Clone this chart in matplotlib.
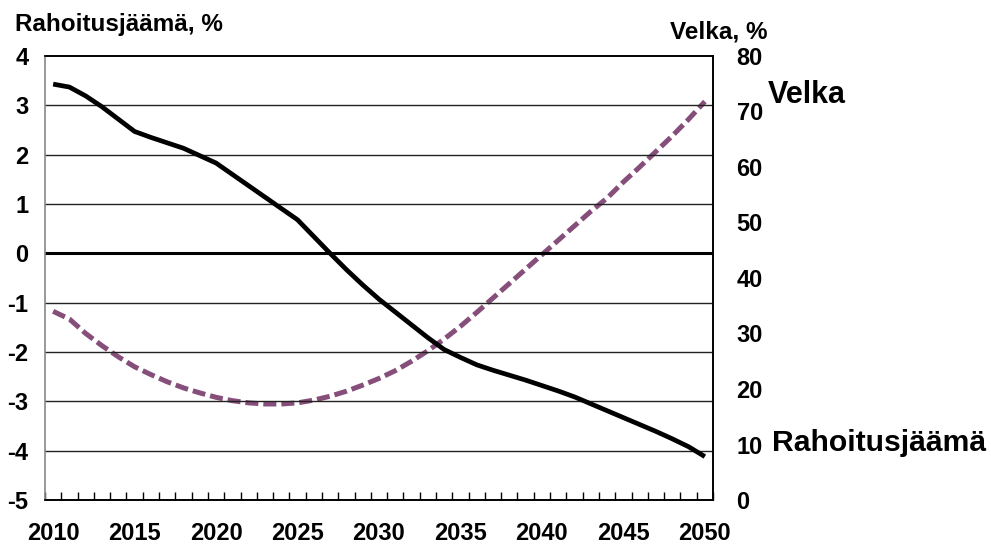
import numpy as np
import matplotlib.pyplot as plt
from matplotlib.ticker import MultipleLocator, FixedLocator

plt.rcParams['font.family'] = ['Liberation Sans', 'DejaVu Sans']
plt.rcParams['font.weight'] = 'bold'
plt.rcParams['axes.unicode_minus'] = False

# ===========================
# Data
# ===========================

years = list(range(2010, 2051))

# Rahoitusjäämä, % (left axis)
rahoitusjaama = [3.43, 3.37, 3.19, 2.97, 2.72, 2.47, 2.35, 2.24, 2.13, 1.98,
                 1.83, 1.60, 1.37, 1.14, 0.91, 0.68, 0.34, 0.00, -0.33, -0.64,
                 -0.93, -1.19, -1.45, -1.71, -1.95, -2.11, -2.26, -2.37, -2.47, -2.57,
                 -2.68, -2.79, -2.91, -3.05, -3.19, -3.33, -3.47, -3.61, -3.76, -3.92,
                 -4.12]

# Velka, % (right axis)
velka = [34.0, 32.6, 30.0, 27.8, 25.8, 24.0, 22.6, 21.3, 20.2, 19.3,
         18.5, 17.9, 17.5, 17.3, 17.3, 17.5, 18.0, 18.7, 19.6, 20.7,
         21.9, 23.3, 25.0, 26.9, 29.0, 31.3, 33.8, 36.4, 39.0, 41.6,
         44.2, 46.8, 49.4, 52.0, 54.4, 57.3, 60.0, 62.8, 65.6, 68.6,
         71.8]

year_labels = [2010, 2015, 2020, 2025, 2030, 2035, 2040, 2045, 2050]

# ===========================
# Plot
# ===========================

fig = plt.figure(figsize=(9.91, 5.44), dpi=100)
ax = fig.add_axes([45 / 991, 44 / 544, 668 / 991, 444 / 544])
ax2 = ax.twinx()

ax.set_xlim(2009.5, 2050.5)
ax.set_ylim(-5, 4)
ax2.set_ylim(0, 80)

# horizontal gridlines
for v in range(-4, 4):
    if v == 0:
        ax.axhline(v, color="black", lw=2.2, zorder=1)
    else:
        ax.axhline(v, color="#222222", lw=1.0, zorder=1)

ax.plot(years, rahoitusjaama, color="black", lw=3.4, zorder=3,
        solid_capstyle="butt")
ax2.plot(years, velka, color="#864E7A", lw=3.6, dashes=(2.6, 1.0), zorder=3)

ax.set_zorder(ax2.get_zorder() + 1)
ax.patch.set_visible(False)

# x axis: labels every 5 years, small inward ticks between years
ax.xaxis.set_major_locator(FixedLocator(year_labels))
ax.xaxis.set_minor_locator(MultipleLocator(1, offset=0.5))
ax.tick_params(axis="x", which="major", length=0, pad=16, labelsize=17)
ax.tick_params(axis="x", which="minor", direction="in", length=6,
               width=1.0, color="black")

ax.yaxis.set_major_locator(MultipleLocator(1))
ax.tick_params(axis="y", length=0, pad=12, labelsize=17)
ax2.yaxis.set_major_locator(MultipleLocator(10))
ax2.tick_params(axis="y", length=0, pad=17, labelsize=17)

for a in (ax, ax2):
    for s in a.spines.values():
        s.set_color("black")
        s.set_linewidth(1.2)
ax.spines["left"].set_color("#888888")
ax2.spines["left"].set_visible(False)

# axis titles and series labels
fig.text(15 / 991, 1 - 25 / 544, "Rahoitusjäämä, %", fontsize=17.5,
         fontweight="bold", va="center", ha="left")
fig.text(719 / 991, 1 - 32 / 544, "Velka, %", fontsize=17.5,
         fontweight="bold", va="center", ha="center")
fig.text(768 / 991, 1 - 95 / 544, "Velka", fontsize=22,
         fontweight="bold", va="center", ha="left")
fig.text(772 / 991, 1 - 443 / 544, "Rahoitusjäämä", fontsize=21.7,
         fontweight="bold", va="center", ha="left")

plt.savefig("out.png", dpi=100)
plt.close()
